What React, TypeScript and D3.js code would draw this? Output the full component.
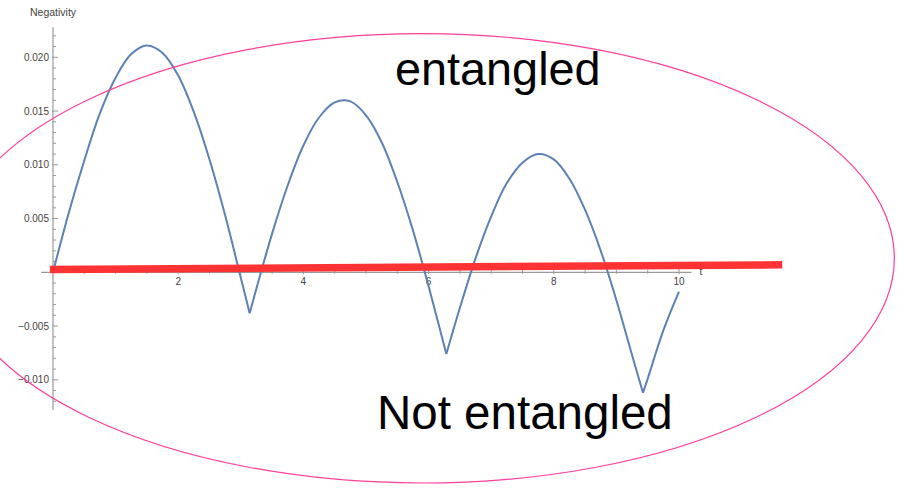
import React from "react";
import * as d3 from "d3";

// Negativity N(t) sampled along the evolution
const times = [
  0, 0.25, 0.5, 0.75, 1.0, 1.25, 1.5, 1.75, 2.0, 2.25, 2.5, 2.75, 3.0, 3.1416,
  3.25, 3.5, 3.75, 4.0, 4.25, 4.5, 4.75, 5.0, 5.25, 5.5, 5.75, 6.0, 6.2832,
  6.5, 6.75, 7.0, 7.25, 7.5, 7.75, 8.0, 8.25, 8.5, 8.75, 9.0, 9.25, 9.4248,
  9.5, 9.75, 10.0,
];
const negativity = [
  0, 0.0055, 0.0104, 0.0148, 0.0181, 0.0203, 0.0211, 0.0204, 0.0183, 0.0149,
  0.0105, 0.0053, -0.0005, -0.0038,
  -0.0015, 0.0036, 0.0081, 0.0118, 0.0144, 0.0158, 0.0159, 0.0146, 0.0121,
  0.0084, 0.0039, -0.0013, -0.0076,
  -0.0033, 0.0013, 0.0052, 0.0083, 0.0102, 0.011, 0.0105, 0.0087, 0.0058,
  0.002, -0.0026, -0.0077, -0.0112,
  -0.0099, -0.0054, -0.0018,
];
// indices where the curve has a sharp cusp (|sin| minima)
const cuspIndex = [13, 26, 39];

const xTicksMajor = [2, 4, 6, 8, 10];
const yTicksMajor = [-0.01, -0.005, 0.005, 0.01, 0.015, 0.02];
const yTickLabels = ["\u22120.010", "\u22120.005", "0.005", "0.010", "0.015", "0.020"];

// separable / entangled threshold drawn over the plot
const thresholdT = [-0.05, 11.65];
const thresholdV = [0.00025, 0.0007];

// region outline: centre and semi-axes in data units
const regionCenter = [5.9, 0.0013];
const regionRadii = [7.54, 0.0209];

const regionLabels = ["entangled", "Not entangled"];

const W = 899;
const H = 489;

export default function App() {
  const x = d3.scaleLinear().domain([0, 10]).range([53, 679]);
  const y = d3.scaleLinear().domain([0, 0.02]).range([272.3, 57.3]);

  const pts = times.map((t, i) => ({ t, v: negativity[i] }));
  const segs: { t: number; v: number }[][] = [];
  let start = 0;
  for (const c of cuspIndex) {
    segs.push(pts.slice(start, c + 1));
    start = c;
  }
  segs.push(pts.slice(start));

  const line = d3
    .line<{ t: number; v: number }>()
    .x((d) => x(d.t))
    .y((d) => y(d.v))
    .curve(d3.curveCatmullRom.alpha(0.5));

  const xMinor = d3.range(0.5, 10.01, 0.5).filter((t) => Math.abs(t % 2) > 1e-6);
  const yMinor = d3
    .range(-12, 23, 1)
    .map((k) => k / 1000)
    .filter((v) => Math.round(v * 1000) % 5 !== 0);

  const axisColor = "#9a9a9a";
  const labelColor = "#444";
  const font = "'Liberation Sans', Arial, sans-serif";

  const ecx = x(regionCenter[0]);
  const ecy = y(regionCenter[1]);
  const erx = x(regionCenter[0] + regionRadii[0]) - ecx;
  const ery = ecy - y(regionCenter[1] + regionRadii[1]);

  return (
    <svg
      width={W}
      height={H}
      style={{ position: "absolute", left: 0, top: 0, background: "#fff" }}
    >
      {/* axes */}
      <line x1={x(-0.19)} x2={x(10.2)} y1={y(0)} y2={y(0)} stroke={axisColor} strokeWidth={1.2} />
      <line x1={x(0)} x2={x(0)} y1={y(0.0228)} y2={y(-0.0128)} stroke={axisColor} strokeWidth={1.2} />
      {xTicksMajor.map((t) => (
        <g key={"xt" + t}>
          <line x1={x(t)} x2={x(t)} y1={y(0) - 4} y2={y(0) + 2} stroke={axisColor} />
          <text
            x={x(t)}
            y={y(0) + 13}
            textAnchor="middle"
            fontSize={10}
            fontFamily={font}
            fill={labelColor}
          >
            {t}
          </text>
        </g>
      ))}
      {xMinor.map((t) => (
        <line key={"xm" + t} x1={x(t)} x2={x(t)} y1={y(0) - 2.5} y2={y(0) + 1.5} stroke={axisColor} />
      ))}
      <text x={x(10.2) + 8} y={y(0) + 3} fontSize={10} fontFamily={font} fill={labelColor}>
        t
      </text>
      {yTicksMajor.map((v, i) => (
        <g key={"yt" + v}>
          <line x1={x(0) - 1} x2={x(0) + 5} y1={y(v)} y2={y(v)} stroke={axisColor} />
          <text
            x={x(0) - 4}
            y={y(v) + 3.5}
            textAnchor="end"
            fontSize={10}
            fontFamily={font}
            fill={labelColor}
          >
            {yTickLabels[i]}
          </text>
        </g>
      ))}
      {yMinor.map((v) => (
        <line key={"ym" + v} x1={x(0)} x2={x(0) + 3} y1={y(v)} y2={y(v)} stroke={axisColor} />
      ))}
      <text
        x={x(0) - 23}
        y={y(0.0228) - 11}
        fontSize={10.5}
        fontFamily={font}
        fill={labelColor}
      >
        Negativity
      </text>

      {/* negativity curve */}
      {segs.map((s, i) => (
        <path key={"seg" + i} d={line(s) || ""} fill="none" stroke="#5e81b5" strokeWidth={2} strokeLinejoin="round" />
      ))}

      {/* threshold line */}
      <line
        x1={x(thresholdT[0])}
        y1={y(thresholdV[0])}
        x2={x(thresholdT[1])}
        y2={y(thresholdV[1])}
        stroke="#ff3333"
        strokeWidth={7.5}
      />

      {/* region outline */}
      <ellipse cx={ecx} cy={ecy} rx={erx} ry={ery} fill="none" stroke="#ff3d9a" strokeWidth={1.2} />

      <text x={395} y={85} fontSize={46.8} fontFamily={font} fill="#000">
        {regionLabels[0]}
      </text>
      <text x={377} y={429} fontSize={47.5} fontFamily={font} fill="#000">
        {regionLabels[1]}
      </text>
    </svg>
  );
}
